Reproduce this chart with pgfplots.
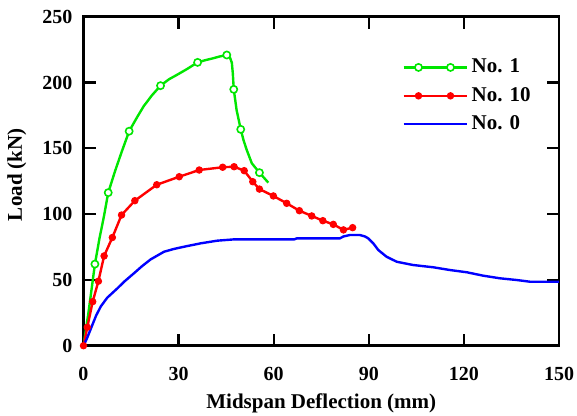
\documentclass[border=0pt]{standalone}
\usepackage{pgfplots}
\pgfplotsset{compat=1.18}
\usepackage{fontspec}
\setmainfont{Liberation Serif}
\definecolor{cgreen}{RGB}{0,230,0}
\definecolor{cred}{RGB}{255,0,0}
\definecolor{cblue}{RGB}{0,0,255}
\begin{document}
\begin{tikzpicture}
\useasboundingbox (-41.75pt,-35.15pt) rectangle (246.75pt,172.85pt);
\begin{axis}[
  at={(0,0)}, anchor=south west,
  scale only axis, width=237.75pt, height=164.5pt,
  xmin=0, xmax=150, ymin=0, ymax=250,
  xtick={0,30,60,90,120,150}, ytick={0,50,100,150,200,250},
  xticklabels={0,30,60,90,120,150},
  yticklabels={0,50,100,150,200,250},
  tick align=inside, major tick length=6pt,
  axis line style={line width=1.2pt},
  every tick/.style={black,line width=1.2pt},
  tick label style={font=\fontsize{10}{12}\selectfont\bfseries},
  xticklabel style={yshift=-7pt},
  yticklabel style={xshift=-2pt},
  xlabel={Midspan Deflection (mm)},
  ylabel={Load (kN)},
  label style={font=\fontsize{10.5}{12}\selectfont\bfseries},
  xlabel style={at={(axis description cs:0.5,-0.174)}, anchor=center},
  ylabel style={at={(axis description cs:-0.14,0.52)}, anchor=center, rotate=0},
  legend style={at={(axis description cs:0.657,0.897)}, anchor=north west, draw=none, fill=none,
    font=\fontsize{10.5}{12}\selectfont\bfseries, row sep=1.75pt},
  legend cell align=left,
  legend image code/.code={
    \draw[#1,mark=none] (0pt,0pt) -- (31.5pt,0pt);
    \draw[#1] plot[only marks] coordinates {(7.5pt,0pt) (23.5pt,0pt)};
  },
]
\addplot[cgreen, line width=1.2pt, mark=*, mark size=1.8pt,
  mark options={fill=white, draw=cgreen, line width=0.8pt},
  mark indices={4,7,10,14,18,22,26,28,32}, forget plot] coordinates {
(0,0) (1.5,24) (2.5,42) (3.6,62) (5,81) (6.5,99) (7.8,116.3) (10,133) (12,147)
(14.4,163) (17,174) (19,182) (21.5,190) (24.3,197.6) (27,202.5) (29.4,205.7)
(32.5,210) (36,215.3) (38.5,217) (40.9,218.4) (43,219.8) (45.2,220.9) (46.2,219)
(46.8,215) (47.1,207) (47.4,194.8) (48.3,179) (49.6,164.4) (50.5,156) (51.5,148.7)
(53.1,138.6) (55.5,131.5) (58.3,123.9)
};
\addlegendimage{cgreen, line width=1.2pt, mark=*, mark size=1.8pt,
  mark options={fill=white, draw=cgreen, line width=0.8pt}}
\addlegendentry{No. 1}
\addplot[cred, line width=1.2pt, mark=*, mark size=1.6pt,
  mark options={fill=cred, draw=cred, line width=0.5pt}] coordinates {
(0,0) (1.2,14) (2.9,33.5) (4.7,49) (6.5,68.2) (9.1,82.2) (12,99.3) (16.2,110.2)
(23.1,122.3) (30.2,128.4) (36.5,133.5) (43.9,135.6) (47.5,136) (50.7,133)
(53.4,124.6) (55.5,119) (59.9,113.8) (64.1,108.2) (68.1,102.6) (72,98.6)
(75.5,95) (78.8,92.2) (82,88) (84.9,89.7)
};
\addlegendentry{No. 10}
\addplot[cblue, line width=1.2pt, mark=none] coordinates {
(0,0) (1,5) (2.5,14) (4,23) (5.5,30) (7.5,36.5) (10.7,43.6) (13,49) (15.9,55)
(18.5,60.5) (21.2,65.6) (25.4,71.4) (28.5,73.5) (31.7,75.2) (37,77.8) (42.2,79.8)
(47.5,80.8) (66.5,80.8) (67.3,81.6) (80.9,81.6) (82,83) (84,84.1) (87.2,84.1)
(88.8,83) (89.8,81.6) (91.4,77.8) (93,72.7) (95.6,67.6) (98.8,63.8) (104,61.3)
(110.3,59.6) (115.6,57.5) (120.9,55.8) (126.1,53.2) (131.4,51.2) (136.7,49.9)
(140.9,48.6) (150,48.6)
};
\addlegendentry{No. 0}
\end{axis}
\end{tikzpicture}
\end{document}
